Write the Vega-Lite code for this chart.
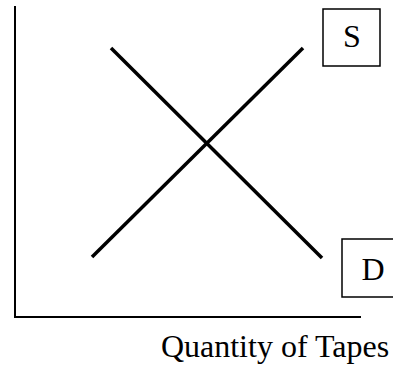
{
  "$schema": "https://vega.github.io/schema/vega-lite/v6.json",
  "width": 393,
  "height": 366,
  "autosize": {"type": "none"},
  "padding": 0,
  "background": "white",
  "config": {"view": {"stroke": null}},
  "datasets": {
    "axes": [
      {"name": "price axis", "x": 15, "y": 49, "x2": 15, "y2": 360},
      {"name": "quantity axis", "x": 14, "y": 49, "x2": 361, "y2": 49}
    ],
    "curves": [
      {"name": "S", "x": 92, "y": 109, "x2": 303, "y2": 318},
      {"name": "D", "x": 111, "y": 318, "x2": 322, "y2": 108}
    ],
    "boxes": [
      {"name": "S", "x": 323, "y": 300, "x2": 380, "y2": 357, "tx": 352, "ty": 329},
      {"name": "D", "x": 342, "y": 69, "x2": 405, "y2": 127, "tx": 373, "ty": 96}
    ],
    "labels": [
      {"text": "Quantity of Tapes", "x": 275, "y": 9}
    ]
  },
  "encoding": {},
  "layer": [
    {
      "data": {"name": "axes"},
      "mark": {"type": "rule", "strokeWidth": 2, "color": "black", "clip": false},
      "encoding": {
        "x": {"field": "x", "type": "quantitative", "scale": {"domain": [0, 393], "nice": false, "zero": false}, "axis": null},
        "y": {"field": "y", "type": "quantitative", "scale": {"domain": [0, 366], "nice": false, "zero": false}, "axis": null},
        "x2": {"field": "x2"},
        "y2": {"field": "y2"}
      }
    },
    {
      "data": {"name": "curves"},
      "mark": {"type": "rule", "strokeWidth": 3.5, "color": "black", "clip": false},
      "encoding": {
        "x": {"field": "x", "type": "quantitative", "scale": {"domain": [0, 393], "nice": false, "zero": false}, "axis": null},
        "y": {"field": "y", "type": "quantitative", "scale": {"domain": [0, 366], "nice": false, "zero": false}, "axis": null},
        "x2": {"field": "x2"},
        "y2": {"field": "y2"}
      }
    },
    {
      "data": {"name": "boxes"},
      "mark": {"type": "rect", "fill": "white", "stroke": "black", "strokeWidth": 1.5, "clip": false},
      "encoding": {
        "x": {"field": "x", "type": "quantitative", "scale": {"domain": [0, 393], "nice": false, "zero": false}, "axis": null},
        "y": {"field": "y", "type": "quantitative", "scale": {"domain": [0, 366], "nice": false, "zero": false}, "axis": null},
        "x2": {"field": "x2"},
        "y2": {"field": "y2"}
      }
    },
    {
      "data": {"name": "boxes"},
      "mark": {"type": "text", "font": "Liberation Serif", "fontSize": 32, "align": "center", "baseline": "middle", "color": "black"},
      "encoding": {
        "x": {"field": "tx", "type": "quantitative", "scale": {"domain": [0, 393], "nice": false, "zero": false}, "axis": null},
        "y": {"field": "ty", "type": "quantitative", "scale": {"domain": [0, 366], "nice": false, "zero": false}, "axis": null},
        "text": {"field": "name"}
      }
    },
    {
      "data": {"name": "labels"},
      "mark": {"type": "text", "font": "Liberation Serif", "fontSize": 32, "align": "center", "baseline": "alphabetic", "color": "black"},
      "encoding": {
        "x": {"field": "x", "type": "quantitative", "scale": {"domain": [0, 393], "nice": false, "zero": false}, "axis": null},
        "y": {"field": "y", "type": "quantitative", "scale": {"domain": [0, 366], "nice": false, "zero": false}, "axis": null},
        "text": {"field": "text"}
      }
    }
  ]
}
